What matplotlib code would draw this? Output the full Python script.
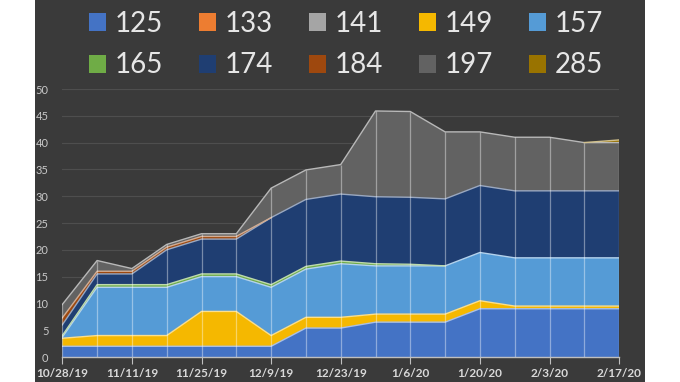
import matplotlib
matplotlib.use('Agg')
import matplotlib.pyplot as plt
from matplotlib.patches import Rectangle, Patch
from matplotlib.colors import to_rgb
import numpy as np

# weekly points, 10/28/19 .. 2/17/20
weeks = ['10/28/19', '11/4/19', '11/11/19', '11/18/19', '11/25/19', '12/2/19',
         '12/9/19', '12/16/19', '12/23/19', '12/30/19', '1/6/20', '1/13/20',
         '1/20/20', '1/27/20', '2/3/20', '2/10/20', '2/17/20']

names = ['125', '133', '141', '149', '157', '165', '174', '184', '197', '285']
s125 = [2, 2, 2, 2, 2, 2, 2, 5.4, 5.4, 6.5, 6.5, 6.5, 9, 9, 9, 9, 9]
s133 = [0] * 17
s141 = [0] * 17
s149 = [1.5, 2, 2, 2, 6.5, 6.5, 2, 2, 2, 1.5, 1.5, 1.5, 1.5, 0.5, 0.5, 0.5, 0.5]
s157 = [0.2, 9, 9, 9, 6.5, 6.5, 9, 9, 10, 9, 9, 9, 9, 9, 9, 9, 9]
s165 = [0.3, 0.5, 0.5, 0.5, 0.5, 0.5, 0.5, 0.5, 0.5, 0.4, 0.3, 0, 0, 0, 0, 0, 0]
s174 = [2, 2, 2, 6.5, 6.5, 6.5, 12.5, 12.5, 12.5, 12.5, 12.5, 12.5, 12.5, 12.5, 12.5, 12.5, 12.5]
s184 = [1.3, 0.5, 0.5, 0.5, 0.5, 0.5, 0, 0, 0, 0, 0, 0, 0, 0, 0, 0, 0]
s197 = [2.5, 2, 0.5, 0.5, 0.5, 0.5, 5.5, 5.5, 5.5, 16, 16, 12.5, 10, 10, 10, 9, 9]
s285 = [0] * 16 + [0.5]

colors = ['#4473c5', '#ed7d31', '#a5a5a5', '#f5b800', '#559bd6',
          '#6fac46', '#1f3e72', '#9e480e', '#626262', '#997300']

ys = np.array([s125, s133, s141, s149, s157, s165, s174, s184, s197, s285], dtype=float)
x = np.arange(len(weeks))
cum = np.cumsum(ys, axis=0)

fig = plt.figure(figsize=(6.8, 3.82), dpi=100)
fig.patch.set_facecolor('white')
fig.patches.append(Rectangle((35 / 680, 0), 610 / 680, 1, transform=fig.transFigure,
                             facecolor='#3a3a3a', edgecolor='none', zorder=-5))

ax = fig.add_axes([62.3 / 680, 1 - 357 / 382, (619.1 - 62.3) / 680, (357 - 89) / 382])
ax.set_facecolor('none')
ax.set_zorder(2)

ax.stackplot(x, ys, colors=colors, linewidth=0, zorder=2)

# light outline on top of every band, only where the band exists
for i in range(len(names)):
    t = ys[i]
    shown = t > 0
    near = shown.copy()
    near[1:] |= shown[:-1]
    near[:-1] |= shown[1:]
    if not near.any():
        continue
    edge = 0.45 * np.array(to_rgb(colors[i])) + 0.55
    ax.plot(x, np.where(near, cum[i], np.nan), color=edge, lw=1, zorder=3)

ax.vlines(x, 0, cum[-1], color='white', alpha=0.4, lw=0.9, zorder=3)

ax.set_xlim(0, len(weeks) - 1)
ax.set_ylim(0, 50)
ax.set_yticks(range(0, 51, 5))
ax.yaxis.grid(True, color='#4e4e4e', lw=0.8)
ax.set_axisbelow(True)

ax.set_xticks(x[::2])
ax.set_xticklabels(weeks[::2], fontfamily='Lato', fontweight='bold', fontsize=8.5, color='#d9d9d9')
for lab in ax.get_yticklabels():
    lab.set_fontfamily('Lato')
    lab.set_fontsize(8)
    lab.set_color('#c8c8c8')
ax.tick_params(axis='x', length=5, color='#bfbfbf', pad=3)
ax.tick_params(axis='y', length=0, pad=10)
for side in ['top', 'right', 'left']:
    ax.spines[side].set_visible(False)
ax.spines['bottom'].set_color('#bfbfbf')
ax.spines['bottom'].set_linewidth(1)
ax.spines['bottom'].set_zorder(4)

handles = [Patch(facecolor=c, edgecolor='none') for c in colors]
order = [0, 5, 1, 6, 2, 7, 3, 8, 4, 9]
fig.legend([handles[i] for i in order], [names[i] for i in order], ncol=5,
           loc='upper left', bbox_to_anchor=(89 / 680, 1 - 11 / 382),
           frameon=False, prop={'family': 'Lato', 'size': 20},
           labelcolor='#e6e6e6', handlelength=0.62, handleheight=0.62,
           handletextpad=0.3, columnspacing=1.3, labelspacing=0.55,
           borderpad=0, borderaxespad=0)

fig.savefig('out.png', dpi=100, facecolor=fig.get_facecolor())
